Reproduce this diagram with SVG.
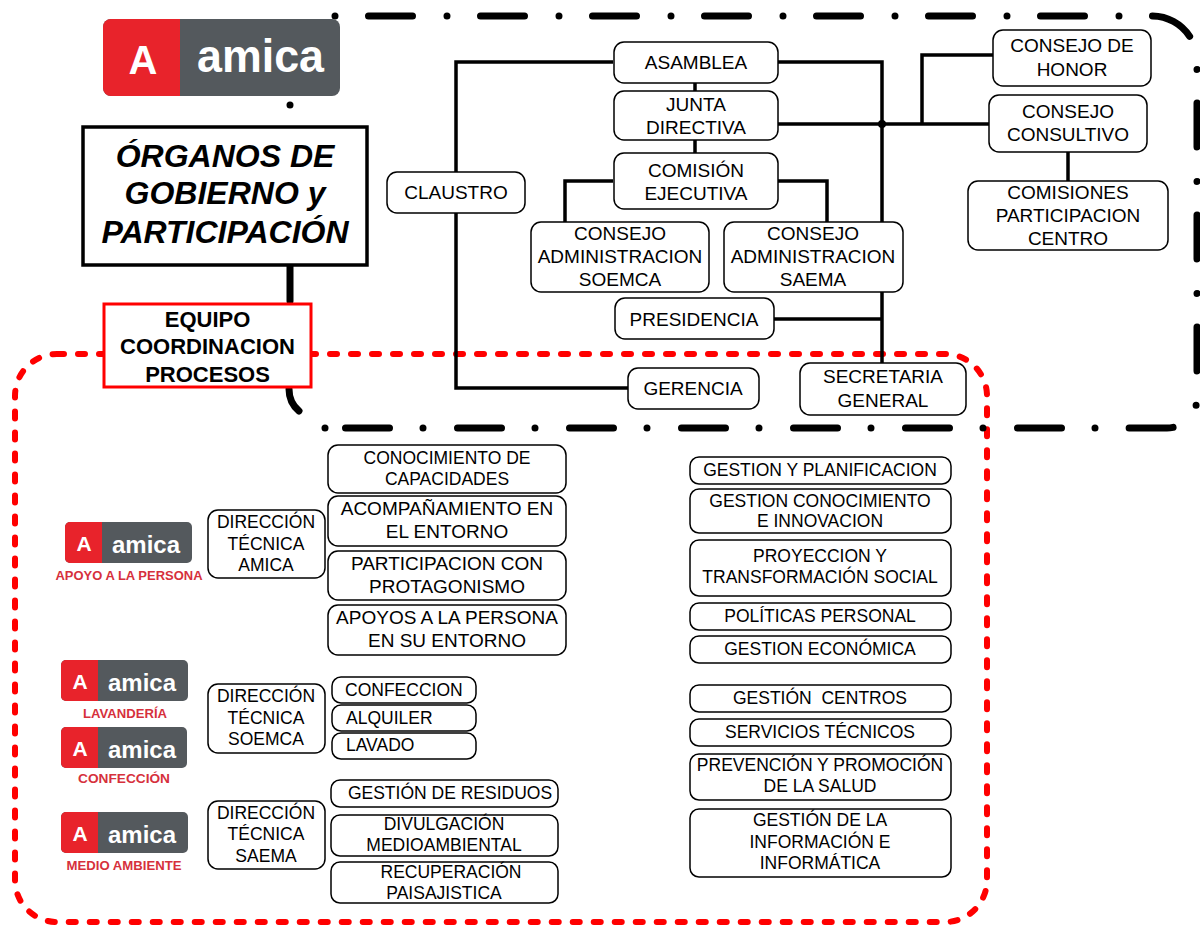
<svg xmlns="http://www.w3.org/2000/svg" width="1200" height="927" viewBox="0 0 1200 927">
<style>
.n{fill:#fff;stroke:#000;stroke-width:1.5}
.t{font-family:"Liberation Sans",Arial,sans-serif;font-size:19px;text-anchor:middle;fill:#000}
.s{font-size:17.5px}
.l{text-anchor:start}
.tt{font-size:32px;font-weight:bold;font-style:italic}
.eq{font-size:22px;font-weight:bold}
.c{fill:none;stroke:#000;stroke-width:3.5}
.bd{fill:none;stroke:#000;stroke-width:7;stroke-linecap:round;stroke-dasharray:0 33.5 44 34.5}
.rd{fill:none;stroke:#ff0000;stroke-width:6;stroke-linecap:round;stroke-dasharray:7 14}
.lg{fill:#54595d}
.lr{fill:#e8232b}
.lw{font-family:"Liberation Sans",Arial,sans-serif;font-weight:bold;fill:#fff}
.cap{font-family:"Liberation Sans",Arial,sans-serif;font-weight:bold;font-size:12.5px;fill:#d6303c;text-anchor:middle}
</style>
<rect width="1200" height="927" fill="#fff"/>

<g id="border-red">
<rect class="rd" x="15" y="354" width="972" height="568" rx="42"/>
</g>

<g id="border-black">
<path class="bd" d="M335,16 H1152 A45,45 0 0 1 1197,61 V398 A30,30 0 0 1 1167,428 H1110"/>
<path class="bd" d="M1095,428 H325"/>
<circle cx="325" cy="428" r="3.5"/>
<circle cx="290" cy="105" r="3.5"/>
<path d="M290,262 V301" stroke="#000" stroke-width="7" stroke-linecap="round"/>
<path d="M289,389 C289,399 293,406 299,411" fill="none" stroke="#000" stroke-width="7" stroke-linecap="round"/>
</g>

<g id="connectors">
<path class="c" d="M613,62 H456 V172"/>
<path class="c" d="M456,213 V388 H628"/>
<path class="c" d="M777,62 H882 V222"/>
<path class="c" d="M882,292 V363"/>
<path class="c" d="M773,319 H882"/>
<path class="c" d="M778,124 H989"/>
<path class="c" d="M922,124 V55 H993"/>
<path class="c" d="M695,83 V91"/>
<path class="c" d="M695,140 V153"/>
<path class="c" d="M613,181 H565 V222"/>
<path class="c" d="M778,181 H827 V222"/>
<path class="c" d="M1068,152 V181"/>
<circle cx="882" cy="124" r="4"/>
</g>

<g id="logo-main">
<rect class="lg" x="103" y="19" width="237" height="77" rx="8"/>
<path class="lr" d="M111,19 H180 V96 H111 A8,8 0 0 1 103,88 V27 A8,8 0 0 1 111,19 Z"/>
<text class="lw" x="143" y="74" font-size="40" text-anchor="middle">A</text>
<text class="lw" x="197" y="72" font-size="46" textLength="127" lengthAdjust="spacingAndGlyphs">amica</text>
</g>

<g id="title">
<rect x="83" y="127" width="284" height="138" fill="#fff" stroke="#000" stroke-width="3.5"/>
<text class="t tt" x="225" y="167">ÓRGANOS DE</text>
<text class="t tt" x="225" y="204">GOBIERNO y</text>
<text class="t tt" x="225" y="243">PARTICIPACIÓN</text>
</g>

<g id="equipo">
<rect x="104" y="304" width="207" height="83" fill="#fff" stroke="#ff0000" stroke-width="3"/>
<text class="t eq" x="207.5" y="327">EQUIPO</text>
<text class="t eq" x="207.5" y="354">COORDINACION</text>
<text class="t eq" x="207.5" y="382">PROCESOS</text>
</g>

<g id="asamblea"><rect class="n" x="614" y="42" width="164" height="41" rx="10"/><text class="t" x="696" y="69">ASAMBLEA</text></g>
<g id="junta"><rect class="n" x="614" y="91" width="164" height="49" rx="10"/><text class="t" x="696" y="111">JUNTA</text><text class="t" x="696" y="134">DIRECTIVA</text></g>
<g id="comision"><rect class="n" x="614" y="153" width="164" height="56" rx="10"/><text class="t" x="696" y="177">COMISIÓN</text><text class="t" x="696" y="200">EJECUTIVA</text></g>
<g id="claustro"><rect class="n" x="387" y="172" width="138" height="41" rx="10"/><text class="t" x="456" y="199">CLAUSTRO</text></g>
<g id="ca-soemca"><rect class="n" x="531" y="222" width="178" height="70" rx="10"/><text class="t" x="620" y="240">CONSEJO</text><text class="t" x="620" y="263">ADMINISTRACION</text><text class="t" x="620" y="286">SOEMCA</text></g>
<g id="ca-saema"><rect class="n" x="724" y="222" width="179" height="70" rx="10"/><text class="t" x="813" y="240">CONSEJO</text><text class="t" x="813" y="263">ADMINISTRACION</text><text class="t" x="813" y="286">SAEMA</text></g>
<g id="presidencia"><rect class="n" x="615" y="298" width="159" height="41" rx="10"/><text class="t" x="694" y="326">PRESIDENCIA</text></g>
<g id="gerencia"><rect class="n" x="628" y="368" width="131" height="41" rx="10"/><text class="t" x="693" y="395">GERENCIA</text></g>
<g id="secretaria"><rect class="n" x="800" y="363" width="166" height="52" rx="10"/><text class="t" x="883" y="383">SECRETARIA</text><text class="t" x="883" y="407">GENERAL</text></g>
<g id="honor"><rect class="n" x="993" y="30" width="158" height="56" rx="10"/><text class="t" x="1072" y="52">CONSEJO DE</text><text class="t" x="1072" y="76">HONOR</text></g>
<g id="consultivo"><rect class="n" x="989" y="95" width="158" height="57" rx="10"/><text class="t" x="1068" y="118">CONSEJO</text><text class="t" x="1068" y="141">CONSULTIVO</text></g>
<g id="comisiones"><rect class="n" x="968" y="181" width="200" height="69" rx="10"/><text class="t" x="1068" y="199">COMISIONES</text><text class="t" x="1068" y="222">PARTICIPACION</text><text class="t" x="1068" y="245">CENTRO</text></g>

<g id="logo-apoyo">
<rect class="lg" x="65" y="522" width="127" height="41" rx="5"/>
<path class="lr" d="M70,522 H102 V563 H70 A5,5 0 0 1 65,558 V527 A5,5 0 0 1 70,522 Z"/>
<text class="lw" x="84" y="551" font-size="21" text-anchor="middle">A</text>
<text class="lw" x="112" y="553" font-size="24" textLength="68" lengthAdjust="spacingAndGlyphs">amica</text>
<text class="cap" x="129" y="580" textLength="147" lengthAdjust="spacingAndGlyphs">APOYO A LA PERSONA</text>
</g>
<g id="logo-lavanderia">
<rect class="lg" x="61" y="660" width="127" height="41" rx="5"/>
<path class="lr" d="M66,660 H98 V701 H66 A5,5 0 0 1 61,696 V665 A5,5 0 0 1 66,660 Z"/>
<text class="lw" x="80" y="689" font-size="21" text-anchor="middle">A</text>
<text class="lw" x="108" y="691" font-size="24" textLength="68" lengthAdjust="spacingAndGlyphs">amica</text>
<text class="cap" x="125" y="718" textLength="84" lengthAdjust="spacingAndGlyphs">LAVANDERÍA</text>
</g>
<g id="logo-confeccion">
<rect class="lg" x="61" y="727" width="126" height="41" rx="5"/>
<path class="lr" d="M66,727 H98 V768 H66 A5,5 0 0 1 61,763 V732 A5,5 0 0 1 66,727 Z"/>
<text class="lw" x="80" y="756" font-size="21" text-anchor="middle">A</text>
<text class="lw" x="108" y="758" font-size="24" textLength="68" lengthAdjust="spacingAndGlyphs">amica</text>
<text class="cap" x="124" y="783" textLength="92" lengthAdjust="spacingAndGlyphs">CONFECCIÓN</text>
</g>
<g id="logo-medio">
<rect class="lg" x="61" y="812" width="127" height="41" rx="5"/>
<path class="lr" d="M66,812 H98 V853 H66 A5,5 0 0 1 61,848 V817 A5,5 0 0 1 66,812 Z"/>
<text class="lw" x="80" y="841" font-size="21" text-anchor="middle">A</text>
<text class="lw" x="108" y="843" font-size="24" textLength="68" lengthAdjust="spacingAndGlyphs">amica</text>
<text class="cap" x="124" y="870" textLength="115" lengthAdjust="spacingAndGlyphs">MEDIO AMBIENTE</text>
</g>

<g id="dt-amica"><rect class="n" x="208" y="510" width="117" height="68" rx="10"/><text class="t s" x="266" y="528">DIRECCIÓN</text><text class="t s" x="266" y="550">TÉCNICA</text><text class="t s" x="266" y="571">AMICA</text></g>
<g id="dt-soemca"><rect class="n" x="208" y="684" width="117" height="69" rx="10"/><text class="t s" x="266" y="702">DIRECCIÓN</text><text class="t s" x="266" y="724">TÉCNICA</text><text class="t s" x="266" y="745">SOEMCA</text></g>
<g id="dt-saema"><rect class="n" x="208" y="801" width="117" height="68" rx="10"/><text class="t s" x="266" y="819">DIRECCIÓN</text><text class="t s" x="266" y="840">TÉCNICA</text><text class="t s" x="266" y="862">SAEMA</text></g>

<g id="conocimiento"><rect class="n" x="328" y="445" width="238" height="48" rx="10"/><text class="t s" x="447" y="464">CONOCIMIENTO DE</text><text class="t s" x="447" y="485">CAPACIDADES</text></g>
<g id="acompanamiento"><rect class="n" x="328" y="496" width="238" height="50" rx="10"/><text class="t" x="447" y="515">ACOMPAÑAMIENTO EN</text><text class="t" x="447" y="538">EL ENTORNO</text></g>
<g id="participacion"><rect class="n" x="328" y="551" width="238" height="49" rx="10"/><text class="t" x="447" y="570">PARTICIPACION CON</text><text class="t" x="447" y="593">PROTAGONISMO</text></g>
<g id="apoyos"><rect class="n" x="328" y="605" width="238" height="50" rx="10"/><text class="t" x="447" y="624">APOYOS A LA PERSONA</text><text class="t" x="447" y="647">EN SU ENTORNO</text></g>

<g id="confeccion"><rect class="n" x="332" y="677" width="144" height="26" rx="9"/><text class="t s l" x="345" y="696">CONFECCION</text></g>
<g id="alquiler"><rect class="n" x="332" y="705" width="144" height="26" rx="9"/><text class="t s l" x="346" y="724">ALQUILER</text></g>
<g id="lavado"><rect class="n" x="332" y="733" width="144" height="26" rx="9"/><text class="t s l" x="346" y="751">LAVADO</text></g>

<g id="residuos"><rect class="n" x="331" y="780" width="227" height="27" rx="9"/><text class="t s" x="450" y="799">GESTIÓN DE RESIDUOS</text></g>
<g id="divulgacion"><rect class="n" x="331" y="815" width="227" height="41" rx="9"/><text class="t s" x="444" y="830">DIVULGACIÓN</text><text class="t s" x="444" y="851">MEDIOAMBIENTAL</text></g>
<g id="recuperacion"><rect class="n" x="331" y="862" width="227" height="41" rx="9"/><text class="t s" x="451" y="878">RECUPERACIÓN</text><text class="t s" x="444" y="899">PAISAJISTICA</text></g>

<g id="planificacion"><rect class="n" x="690" y="457" width="261" height="27" rx="9"/><text class="t s" x="820" y="476">GESTION Y PLANIFICACION</text></g>
<g id="gestion-conocimiento"><rect class="n" x="690" y="489" width="261" height="44" rx="9"/><text class="t s" x="820" y="507">GESTION CONOCIMIENTO</text><text class="t s" x="820" y="527">E INNOVACION</text></g>
<g id="proyeccion"><rect class="n" x="690" y="540" width="261" height="56" rx="9"/><text class="t s" x="820" y="562">PROYECCION Y</text><text class="t s" x="820" y="583">TRANSFORMACIÓN SOCIAL</text></g>
<g id="politicas"><rect class="n" x="690" y="603" width="261" height="27" rx="9"/><text class="t s" x="820" y="622">POLÍTICAS PERSONAL</text></g>
<g id="economica"><rect class="n" x="690" y="636" width="261" height="27" rx="9"/><text class="t s" x="820" y="655">GESTION ECONÓMICA</text></g>
<g id="centros"><rect class="n" x="690" y="685" width="261" height="27" rx="9"/><text class="t s" x="820" y="704" xml:space="preserve">GESTIÓN  CENTROS</text></g>
<g id="servicios"><rect class="n" x="690" y="719" width="261" height="27" rx="9"/><text class="t s" x="820" y="738">SERVICIOS TÉCNICOS</text></g>
<g id="prevencion"><rect class="n" x="690" y="754" width="261" height="46" rx="9"/><text class="t s" x="820" y="771">PREVENCIÓN Y PROMOCIÓN</text><text class="t s" x="820" y="792">DE LA SALUD</text></g>
<g id="informacion"><rect class="n" x="690" y="809" width="261" height="68" rx="9"/><text class="t s" x="820" y="826">GESTIÓN DE LA</text><text class="t s" x="820" y="848">INFORMACIÓN E</text><text class="t s" x="820" y="869">INFORMÁTICA</text></g>
</svg>
